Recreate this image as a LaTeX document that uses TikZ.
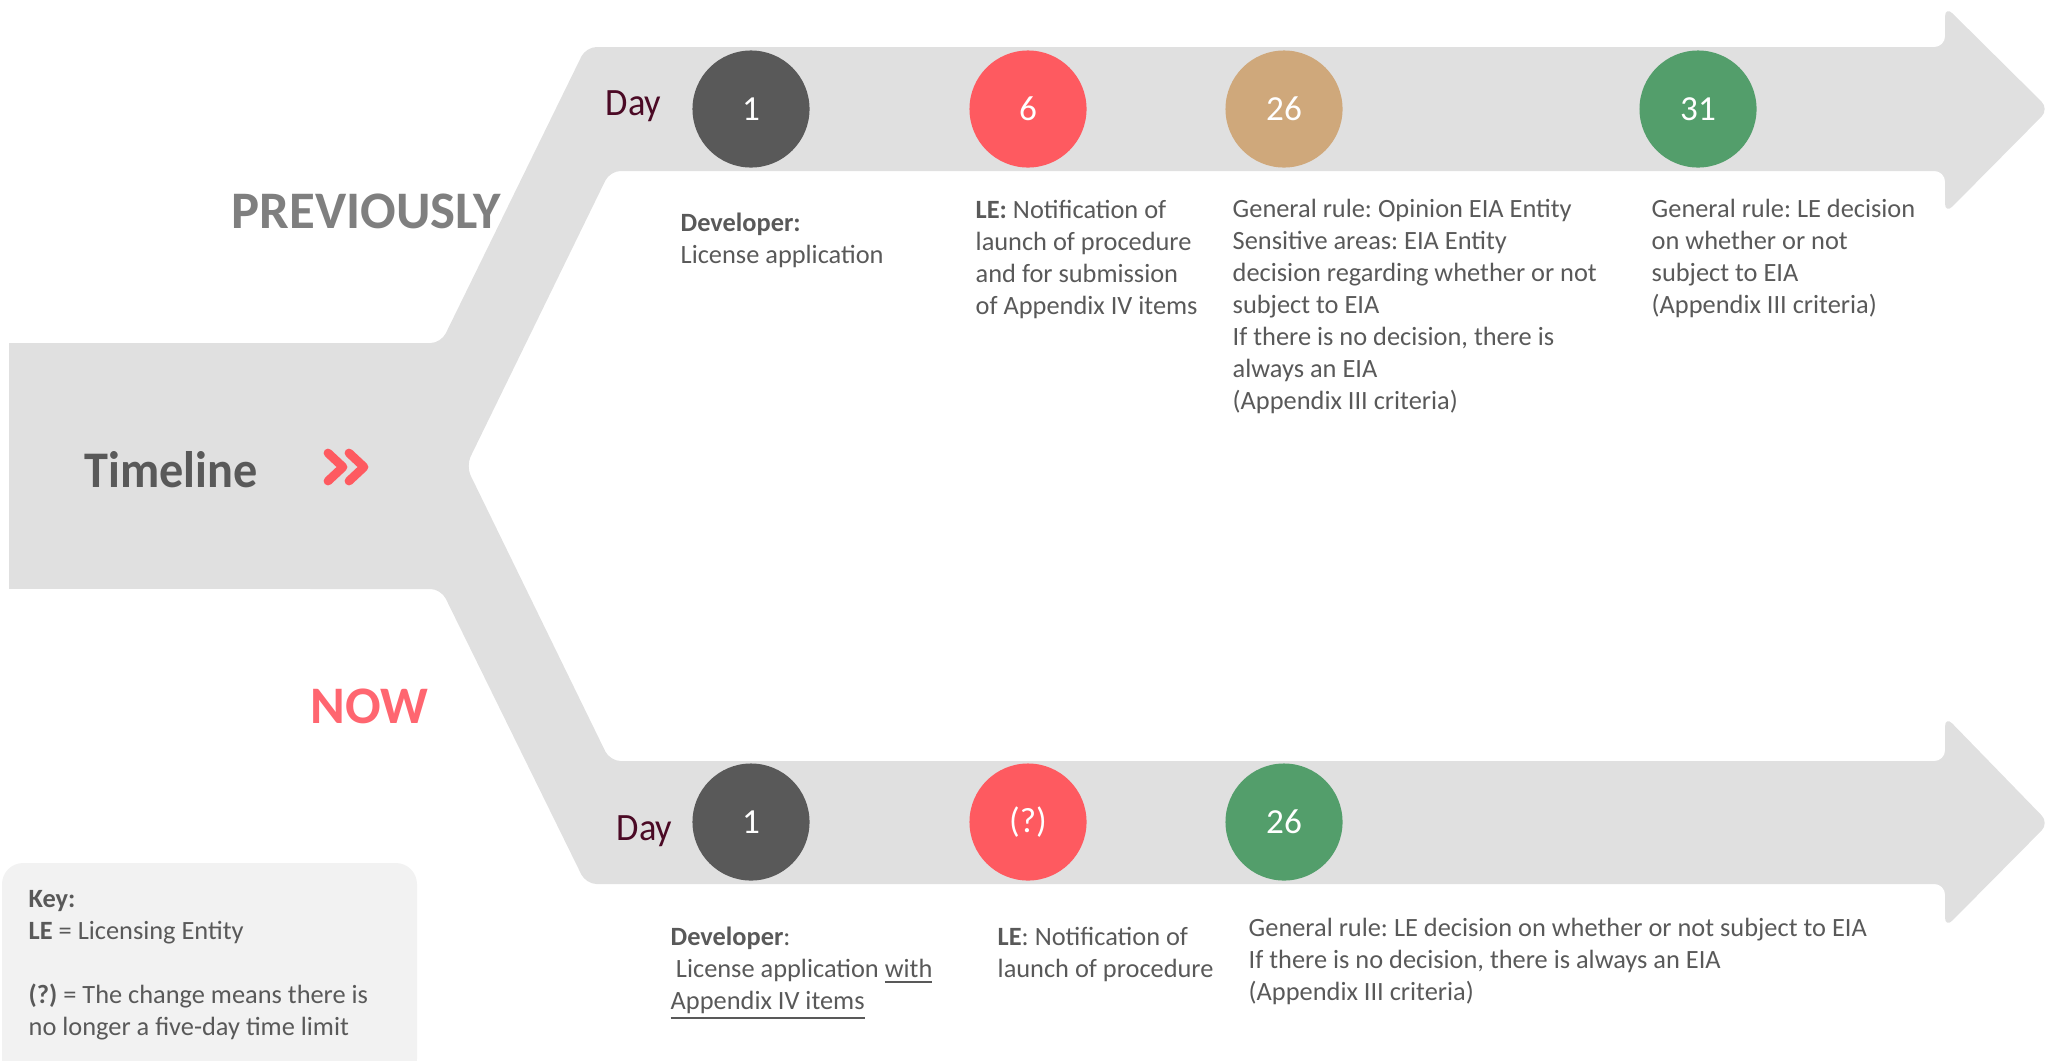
\documentclass[tikz,border=0pt]{standalone}
\usepackage{fontspec}
\setmainfont{Carlito}
\newfontfamily\tightfont{Carlito}[FakeStretch=0.94]
\frenchspacing
\definecolor{band}{HTML}{E0E0E0}
\definecolor{txt}{HTML}{595959}
\definecolor{daycol}{HTML}{4B0A25}
\definecolor{dotgrey}{HTML}{595959}
\definecolor{dotred}{HTML}{FE5A60}
\definecolor{dottan}{HTML}{CFA87B}
\definecolor{dotgreen}{HTML}{539E6B}
\definecolor{prevcol}{HTML}{7F7F7F}
\definecolor{nowcol}{HTML}{FF6670}
\definecolor{keyfill}{HTML}{F2F2F2}

% multi-line text nodes are placed by the baseline of their last line
\tikzset{
  body/.style={anchor=base west, inner sep=0pt, align=left, text=txt,
    font=\fontsize{7.5}{9.1}\selectfont},
  dayword/.style={anchor=base west, inner sep=0pt, text=daycol,
    font=\tightfont\fontsize{11}{13}\selectfont},
  dot/.style={circle, minimum size=1.17cm, inner sep=0pt, text=white,
    font=\fontsize{10}{12}\selectfont},
  heading/.style={anchor=base west, inner sep=0pt,
    font=\fontsize{15}{18}\selectfont\bfseries},
  chev/.style={dotred, line width=2.5pt, line cap=round, line join=round}
}

\begin{document}
\begin{tikzpicture}[x=0.01cm,y=-0.01cm]
\useasboundingbox (0,0) rectangle (2049,1060);

% stem of the timeline
\fill[band] (9,343) rectangle (320,589);
% the two branches with their arrowheads
\fill[band, rounded corners=3pt]
  (300,343) -- (441,343) -- (586,47) -- (1945,47) -- (1945,6)
  -- (2049,109) -- (1945,214) -- (1945,171) -- (610,171) -- (466,466)
  -- (610,761) -- (1945,761) -- (1945,716) -- (2049,823) -- (1945,928)
  -- (1945,884) -- (586,884) -- (441,589) -- (300,589) -- cycle;

% side labels
\node[heading, text=prevcol] (prev) at (231,228) {PREVIOUSLY};
\node[heading, text=txt, font=\tightfont\fontsize{14.6}{17}\selectfont\bfseries] (tl) at (84,487) {Timeline};
\node[heading, text=nowcol] (now) at (310,723) {NOW};

% double chevron
\draw[chev] (328,453) -- (343,467) -- (328,481);
\draw[chev] (349,453) -- (364,467) -- (349,481);

% previous procedure
\node[dayword] (dayA) at (605,115) {Day};
\node[dot, fill=dotgrey] (u1) at (751,109) {1};
\node[dot, fill=dotred] (u6) at (1028,109) {6};
\node[dot, fill=dottan] (u26) at (1284,109) {26};
\node[dot, fill=dotgreen] (u31) at (1698,109) {31};

\node[body] (tu1) at (680,263) {\textbf{Developer:}\\License application};
\node[body] (tu6) at (975,314) {\textbf{LE:} Notification of\\launch of procedure\\and for submission\\of Appendix IV items};
\node[body] (tu26) at (1232,409) {General rule: Opinion EIA Entity\\Sensitive areas: EIA Entity\\decision regarding whether or not\\subject to EIA\\If there is no decision, there is\\always an EIA\\(Appendix III criteria)};
\node[body] (tu31) at (1651,313) {General rule: LE decision\\on whether or not\\subject to EIA\\(Appendix III criteria)};

% current procedure
\node[dayword] (dayB) at (616,840) {Day};
\node[dot, fill=dotgrey] (n1) at (751,822) {1};
\node[dot, fill=dotred] (nq) at (1028,822) {(?)};
\node[dot, fill=dotgreen] (n26) at (1284,822) {26};

\node[body] (tn1) at (670,1009) {\textbf{Developer}:\\\hspace*{1.5pt}License application \underline{with}\\\underline{Appendix IV items}};
\node[body] (tnq) at (997,977) {\textbf{LE}: Notification of\\launch of procedure};
\node[body] (tn26) at (1248,1000) {General rule: LE decision on whether or not subject to EIA\\If there is no decision, there is always an EIA\\(Appendix III criteria)};

% key
\fill[keyfill, rounded corners=6pt] (2,863) rectangle (417,1080);
\node[body] (key) at (28,1035) {\textbf{Key:}\\\textbf{LE} = Licensing Entity\\[9.1pt]\textbf{(?)} = The change means there is\\no longer a five-day time limit};
\end{tikzpicture}
\end{document}
